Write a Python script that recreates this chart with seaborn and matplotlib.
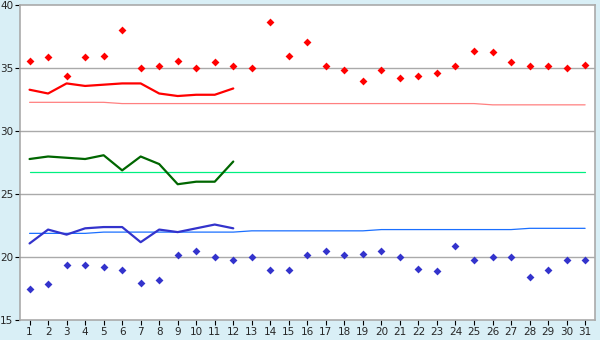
import matplotlib
matplotlib.use("Agg")
import matplotlib.pyplot as plt
import seaborn as sns
import pandas as pd
import numpy as np

days = list(range(1, 32))
days12 = list(range(1, 13))

max_temp = [35.6, 35.9, 34.4, 35.9, 36.0, 38.0, 35.0, 35.2, 35.6, 35.0, 35.5, 35.2,
            35.0, 38.7, 36.0, 37.1, 35.2, 34.9, 34.0, 34.9, 34.2, 34.4, 34.6, 35.2,
            36.4, 36.3, 35.5, 35.2, 35.2, 35.0, 35.3]
min_temp = [17.5, 17.9, 19.4, 19.4, 19.2, 19.0, 18.0, 18.2, 20.2, 20.5, 20.0, 19.8,
            20.0, 19.0, 19.0, 20.2, 20.5, 20.2, 20.3, 20.5, 20.0, 19.1, 18.9, 20.9,
            19.8, 20.0, 20.0, 18.4, 19.0, 19.8, 19.8]
avg_max = [33.3, 33.0, 33.8, 33.6, 33.7, 33.8, 33.8, 33.0, 32.8, 32.9, 32.9, 33.4]
avg_mean = [27.8, 28.0, 27.9, 27.8, 28.1, 26.9, 28.0, 27.4, 25.8, 26.0, 26.0, 27.6]
avg_min = [21.1, 22.2, 21.8, 22.3, 22.4, 22.4, 21.2, 22.2, 22.0, 22.3, 22.6, 22.3]
normal_max = [32.3] * 5 + [32.2] * 20 + [32.1] * 6
normal_mean = [26.75] * 31
normal_min = [21.9] * 4 + [22.0] * 8 + [22.1] * 7 + [22.2] * 8 + [22.3] * 4

df_all = pd.DataFrame({"day": days, "max": max_temp, "min": min_temp,
                       "nmax": normal_max, "nmean": normal_mean, "nmin": normal_min})
df12 = pd.DataFrame({"day": days12, "amax": avg_max, "amean": avg_mean, "amin": avg_min})

sns.set_style("white")
plt.rcParams['font.family'] = ['DejaVu Sans']

fig = plt.figure(figsize=(6, 3.4), dpi=100)
fig.patch.set_facecolor("#d9eff6")
ax = fig.add_axes([20.3 / 600, 19.7 / 340, 575 / 600, 315 / 340])
ax.set_facecolor("white")

for yv in [20, 25, 30, 35]:
    ax.axhline(yv, color="#aaaaaa", lw=1, zorder=0)

sns.lineplot(data=df_all, x="day", y="nmax", color="#ff8080", lw=0.9, ax=ax)
sns.lineplot(data=df_all, x="day", y="nmean", color="#00f080", lw=0.9, ax=ax)
sns.lineplot(data=df_all, x="day", y="nmin", color="#1a6fff", lw=0.9, ax=ax)
sns.lineplot(data=df12, x="day", y="amax", color="#ff0000", lw=1.6, ax=ax)
sns.lineplot(data=df12, x="day", y="amean", color="#006600", lw=1.6, ax=ax)
sns.lineplot(data=df12, x="day", y="amin", color="#3333cc", lw=1.6, ax=ax)
sns.scatterplot(data=df_all, x="day", y="max", color="#ff0000", marker="D", s=16,
                linewidth=0, ax=ax, zorder=5)
sns.scatterplot(data=df_all, x="day", y="min", color="#3333cc", marker="D", s=16,
                linewidth=0, ax=ax, zorder=5)

ax.set_xlim(0.5, 31.55)
ax.set_ylim(15, 40)
ax.set_xticks(days)
ax.set_xticklabels([str(d) for d in days])
ax.set_yticks([15, 20, 25, 30, 35, 40])
ax.set_xlabel("")
ax.set_ylabel("")
for s in ax.spines.values():
    s.set_color("#aaaaaa")
    s.set_linewidth(1.2)
ax.tick_params(axis="both", direction="out", length=3.5, width=0.8, color="black",
               labelsize=7.5, pad=1.5, left=True, bottom=True)
ax.grid(False)

fig.savefig("out.png", dpi=100, facecolor=fig.get_facecolor())
